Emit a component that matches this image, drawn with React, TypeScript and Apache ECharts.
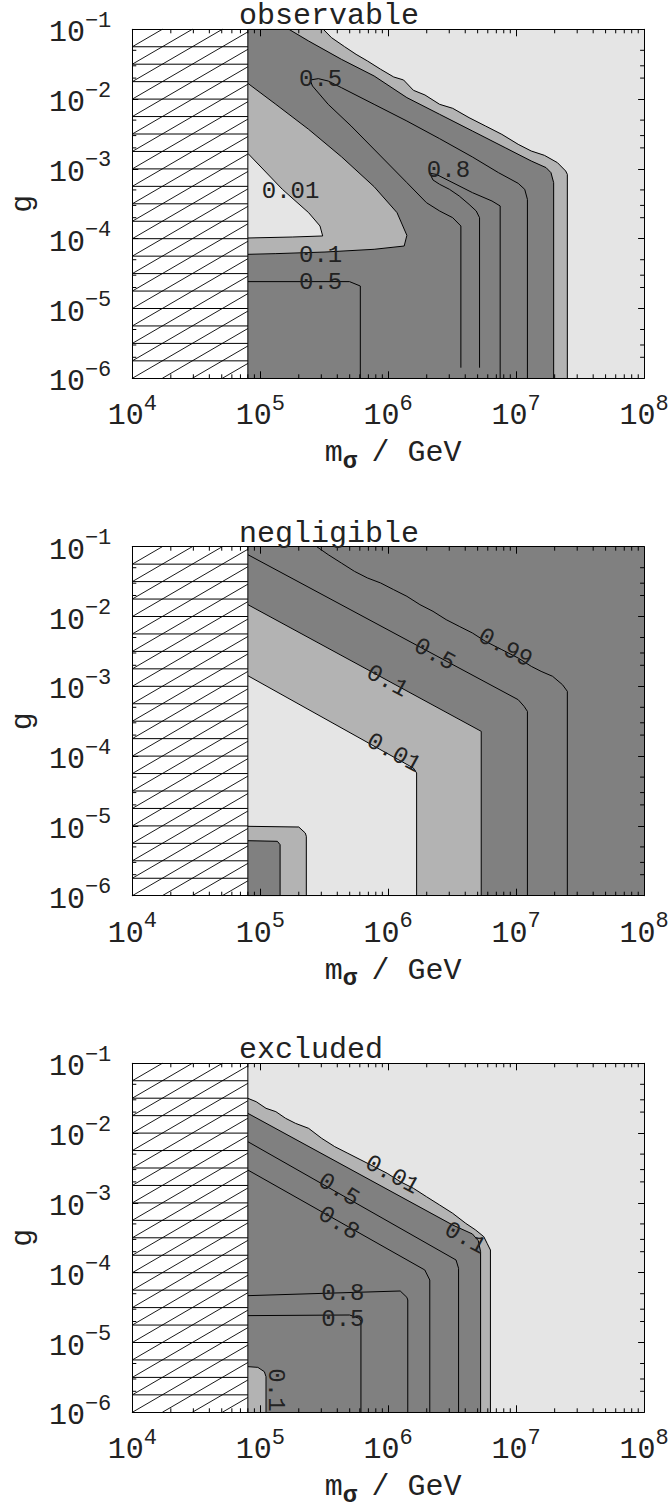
import React, { useEffect, useRef } from 'react';
import * as echarts from 'echarts';

type Pt = [number, number];

// ---- axes (log10 values) ----
const X_MIN = 4, X_MAX = 8, Y_MIN = -6, Y_MAX = -1;
const X_MINOR_FACTORS = [2, 3, 4, 5, 6, 7, 8, 9];
const Y_MINOR_FACTORS = [2, 3, 5];
const HATCH_EDGE = 4.903; // log10(8e4 GeV)
const HATCH_ROW_STEP = 0.25;
const TITLES = ['observable', 'negligible', 'excluded'];

// ---- panel 1: observable ----
const P1_EDGE_LIGHT: Pt[] = [[5.493,-1.0],[5.557,-1.120],[5.659,-1.249],[5.749,-1.359],[5.838,-1.454],[5.941,-1.573],[6.043,-1.683],[6.120,-1.726],[6.197,-1.874],[6.287,-1.941],[6.402,-2.075],[6.504,-2.132],[6.632,-2.266],[6.760,-2.385],[6.888,-2.505],[7.016,-2.648],[7.118,-2.744],[7.221,-2.806],[7.323,-2.911],[7.387,-3.030],[7.400,-3.078],[7.400,-6]];
const P1_EDGE_DARK: Pt[] = [[5.224,-1.0],[5.378,-1.168],[5.634,-1.430],[5.890,-1.669],[6.146,-1.979],[6.402,-2.218],[6.658,-2.457],[6.914,-2.696],[7.118,-2.887],[7.234,-2.982],[7.272,-3.054],[7.293,-3.197],[7.293,-6]];
const P1_WEDGE_MID: Pt[] = [[4.903,-1.774],[5.122,-2.075],[5.378,-2.433],[5.634,-2.825],[5.890,-3.255],[6.069,-3.627],[6.146,-3.952],[6.125,-4.105],[5.890,-4.152],[5.506,-4.191],[5.122,-4.214],[4.903,-4.224]];
const P1_WEDGE_LIGHT: Pt[] = [[4.903,-2.777],[5.173,-3.293],[5.378,-3.627],[5.467,-3.818],[5.488,-3.961],[5.250,-3.976],[4.903,-3.990]];
const P1_C05_LOW: Pt[] = [[4.903,-4.615],[5.698,-4.615],[5.782,-4.678],[5.782,-6]];
const P1_C05: Pt[] = [[6.568,-5.848],[6.568,-3.818],[6.504,-3.699],[6.402,-3.603],[6.299,-3.484],[6.146,-3.197],[5.941,-2.815],[5.710,-2.385],[5.531,-2.075],[5.408,-1.812],[5.390,-1.726],[5.454,-1.707],[5.531,-1.741],[5.634,-1.836],[5.890,-2.075],[6.146,-2.314],[6.402,-2.567],[6.658,-2.829],[6.862,-3.054],[7.016,-3.207],[7.067,-3.293],[7.088,-3.436],[7.088,-6]];
const P1_C08: Pt[] = [[6.714,-5.848],[6.714,-3.699],[6.688,-3.603],[6.632,-3.508],[6.555,-3.388],[6.479,-3.293],[6.402,-3.221],[6.350,-3.159],[6.325,-3.063],[6.376,-3.078],[6.530,-3.221],[6.658,-3.340],[6.811,-3.460],[6.875,-3.531],[6.875,-6]];
const P1_LABEL_TEXT = ['0.5', '0.8', '0.01', '0.1', '0.5'];
const P1_LABEL_POS: Pt[] = [[5.472,-1.717],[6.471,-3.030],[5.237,-3.317],[5.472,-4.238],[5.472,-4.630]];
const P1_LABEL_ROT = [0, 0, 0, 0, 0];

// ---- panel 2: negligible ----
const P2_EDGE_MID: Pt[] = [[4.903,-1.830],[6.727,-3.645],[6.727,-6]];
const P2_EDGE_LIGHT: Pt[] = [[4.903,-2.848],[6.197,-4.171],[6.222,-4.242],[6.222,-6]];
const P2_BOX_MID: Pt[] = [[4.903,-5.006],[5.301,-5.016],[5.352,-5.102],[5.360,-5.149],[5.360,-6]];
const P2_BOX_DARK: Pt[] = [[4.903,-5.212],[5.134,-5.221],[5.155,-5.269],[5.155,-6]];
const P2_C099: Pt[] = [[5.442,-1.0],[5.531,-1.114],[5.634,-1.234],[5.736,-1.353],[5.838,-1.448],[5.941,-1.520],[6.043,-1.616],[6.146,-1.711],[6.248,-1.830],[6.350,-1.926],[6.453,-2.045],[6.555,-2.141],[6.658,-2.236],[6.760,-2.356],[6.888,-2.475],[7.016,-2.595],[7.118,-2.714],[7.195,-2.786],[7.285,-2.857],[7.362,-2.977],[7.400,-3.072],[7.400,-6]];
const P2_C05: Pt[] = [[4.903,-1.114],[7.016,-3.192],[7.062,-3.287],[7.088,-3.359],[7.088,-6]];
const P2_LABEL_TEXT = ['0.99', '0.5', '0.1', '0.01'];
const P2_LABEL_POS: Pt[] = [[6.914,-2.451],[6.363,-2.547],[5.992,-2.929],[6.043,-3.956]];
const P2_LABEL_ROT = [-0.5, -0.5, -0.5, -0.5];

// ---- panel 3: excluded ----
const P3_EDGE_MID: Pt[] = [[4.903,-1.502],[4.968,-1.550],[5.045,-1.645],[5.122,-1.693],[5.198,-1.788],[5.275,-1.860],[5.378,-1.932],[5.480,-2.075],[5.582,-2.194],[5.685,-2.290],[5.787,-2.385],[5.890,-2.481],[5.992,-2.576],[6.094,-2.696],[6.197,-2.791],[6.299,-2.911],[6.402,-3.030],[6.504,-3.149],[6.606,-3.293],[6.683,-3.388],[6.747,-3.484],[6.773,-3.579],[6.799,-3.675],[6.799,-6]];
const P3_EDGE_DARK: Pt[] = [[4.903,-1.717],[6.504,-3.317],[6.658,-3.445],[6.704,-3.541],[6.722,-3.699],[6.722,-6]];
const P3_BOX_MID: Pt[] = [[4.903,-5.346],[4.981,-5.356],[5.032,-5.418],[5.045,-5.489],[5.045,-6]];
const P3_C05: Pt[] = [[4.903,-2.123],[6.530,-3.818],[6.550,-3.937],[6.550,-6]];
const P3_C08: Pt[] = [[4.903,-2.529],[6.286,-3.961],[6.325,-4.105],[6.325,-6]];
const P3_C08_LOW: Pt[] = [[4.903,-4.329],[6.094,-4.262],[6.146,-4.353],[6.153,-4.391],[6.153,-6]];
const P3_C05_LOW: Pt[] = [[4.903,-4.615],[5.698,-4.606],[5.774,-4.654],[5.787,-4.702],[5.787,-6]];
const P3_LABEL_TEXT = ['0.01', '0.5', '0.8', '0.1', '0.8', '0.5', '0.1'];
const P3_LABEL_POS: Pt[] = [[6.030,-2.600],[5.613,-2.815],[5.613,-3.293],[6.601,-3.508],[5.646,-4.298],[5.646,-4.668],[5.117,-5.680]];
const P3_LABEL_ROT = [-0.5, -0.55, -0.55, -0.5, 0, 0, -Math.PI / 2];

// ---- styling ----
const FONT = '"Liberation Mono", "Courier New", Courier, monospace';
const INK = '#222';
const LIGHT = '#e5e5e5', MID = '#b3b3b3', DARK = '#808080';
const GRID_LEFT = 123.3, GRID_WIDTH = 520.8, GRID_HEIGHT = 349;
const PANEL_TOPS = [29.3, 546.7, 1063.3];
const HATCH_SPACING_PX = 30;
const MINOR_LEN = 4;

const EDGE_CLOSE: Pt[] = [[HATCH_EDGE, -6], [HATCH_EDGE, -1]];
const LEFT_CLOSE: Pt[] = [[HATCH_EDGE, -6]];

interface Fill { pts: Pt[]; close: Pt[]; color: string }
interface Panel { background: string; fills: Fill[]; lines: Pt[][]; labelText: string[]; labelPos: Pt[]; labelRot: number[] }

const PANELS: Panel[] = [
  {
    background: LIGHT,
    fills: [
      { pts: P1_EDGE_LIGHT, close: EDGE_CLOSE, color: MID },
      { pts: P1_EDGE_DARK, close: EDGE_CLOSE, color: DARK },
      { pts: P1_WEDGE_MID, close: [], color: MID },
      { pts: P1_WEDGE_LIGHT, close: [], color: LIGHT },
    ],
    lines: [P1_C05_LOW, P1_C05, P1_C08],
    labelText: P1_LABEL_TEXT, labelPos: P1_LABEL_POS, labelRot: P1_LABEL_ROT,
  },
  {
    background: DARK,
    fills: [
      { pts: P2_EDGE_MID, close: LEFT_CLOSE, color: MID },
      { pts: P2_EDGE_LIGHT, close: LEFT_CLOSE, color: LIGHT },
      { pts: P2_BOX_MID, close: LEFT_CLOSE, color: MID },
      { pts: P2_BOX_DARK, close: LEFT_CLOSE, color: DARK },
    ],
    lines: [P2_C099, P2_C05],
    labelText: P2_LABEL_TEXT, labelPos: P2_LABEL_POS, labelRot: P2_LABEL_ROT,
  },
  {
    background: LIGHT,
    fills: [
      { pts: P3_EDGE_MID, close: LEFT_CLOSE, color: MID },
      { pts: P3_EDGE_DARK, close: LEFT_CLOSE, color: DARK },
      { pts: P3_BOX_MID, close: LEFT_CLOSE, color: MID },
    ],
    lines: [P3_C05, P3_C08, P3_C08_LOW, P3_C05_LOW],
    labelText: P3_LABEL_TEXT, labelPos: P3_LABEL_POS, labelRot: P3_LABEL_ROT,
  },
];

const TICK_RICH = {
  b: { fontSize: 30, fontFamily: FONT, color: INK, lineHeight: 30, padding: [8, 0, 0, 0] },
  s: { fontSize: 22, fontFamily: FONT, color: INK, lineHeight: 22, padding: [0, 0, 16, 0] },
};
const NAME_RICH = {
  m: { fontSize: 30, fontFamily: FONT, color: INK, lineHeight: 30, padding: [0, 0, 0, 10] },
  a: { fontSize: 30, fontFamily: FONT, color: INK, lineHeight: 30 },
  s: { fontSize: 24, fontFamily: FONT, fontWeight: 'bold', color: INK, lineHeight: 24, padding: [16, 0, 0, 0] },
};

function buildOption() {
  const grid: any[] = [], xAxis: any[] = [], yAxis: any[] = [], series: any[] = [], title: any[] = [];
  const axisLine = { show: true, onZero: false, lineStyle: { color: '#000', width: 1 } };

  PANELS.forEach((panel, gi) => {
    const top = PANEL_TOPS[gi];
    grid.push({ left: GRID_LEFT, top, width: GRID_WIDTH, height: GRID_HEIGHT, containLabel: false });
    title.push({
      text: TITLES[gi], left: 239, top: top - 26, padding: 0,
      textStyle: { fontFamily: FONT, fontSize: 30, fontWeight: 'normal', color: INK, lineHeight: 26 },
    });
    const xa = gi * 2, ya = gi * 2;
    xAxis.push({
      gridIndex: gi, type: 'value', min: X_MIN, max: X_MAX, interval: 1, position: 'bottom', z: 6,
      axisLine, axisTick: { show: true, inside: true, length: 7, lineStyle: { color: '#000' } },
      axisLabel: { show: true, margin: 19, formatter: (v: number) => `{b|10}{s|${v}}`, rich: TICK_RICH },
      splitLine: { show: false },
      name: '{m|m}{s|σ }{a|/ GeV}', nameLocation: 'middle', nameGap: 60,
      nameTextStyle: { rich: NAME_RICH, fontFamily: FONT },
    });
    xAxis.push({
      gridIndex: gi, type: 'value', min: X_MIN, max: X_MAX, interval: 1, position: 'top', z: 6,
      axisLine, axisTick: { show: true, inside: true, length: 7, lineStyle: { color: '#000' } },
      axisLabel: { show: false }, splitLine: { show: false },
    });
    yAxis.push({
      gridIndex: gi, type: 'value', min: Y_MIN, max: Y_MAX, interval: 1, position: 'left', z: 6,
      axisLine, axisTick: { show: true, inside: true, length: 6, lineStyle: { color: '#000' } },
      axisLabel: { show: true, margin: 21, formatter: (v: number) => `{b|10}{s|−${Math.abs(v)}}`, rich: TICK_RICH },
      splitLine: { show: false },
      name: 'g', nameLocation: 'middle', nameGap: 88,
      nameTextStyle: { fontFamily: FONT, fontSize: 30, color: INK },
    });
    yAxis.push({
      gridIndex: gi, type: 'value', min: Y_MIN, max: Y_MAX, interval: 1, position: 'right', z: 6,
      axisLine, axisTick: { show: true, inside: true, length: 6, lineStyle: { color: '#000' } },
      axisLabel: { show: false }, splitLine: { show: false },
    });

    const base = { type: 'custom', xAxisIndex: xa, yAxisIndex: ya, silent: true, data: [[6, -3]], animation: false };

    // background of the allowed region
    series.push({
      ...base, z: 1,
      renderItem: (_p: any, api: any) => {
        const [x0, y0] = api.coord([HATCH_EDGE, Y_MAX]);
        const [x1, y1] = api.coord([X_MAX, Y_MIN]);
        return { type: 'rect', shape: { x: x0, y: y0, width: x1 - x0, height: y1 - y0 }, style: { fill: panel.background } };
      },
    });
    // filled contour regions with their outlines
    panel.fills.forEach((f) => {
      series.push({
        ...base, z: 2,
        renderItem: (_p: any, api: any) => {
          const b = f.pts.map((p) => api.coord(p));
          const c = f.close.map((p) => api.coord(p));
          return {
            type: 'group',
            children: [
              { type: 'polygon', shape: { points: b.concat(c) }, style: { fill: f.color, stroke: f.color, lineWidth: 0.3 } },
              { type: 'polyline', shape: { points: b }, style: { stroke: '#000', lineWidth: 1, fill: null } },
            ],
          };
        },
      });
    });
    // contour lines
    series.push({
      ...base, z: 3,
      renderItem: (_p: any, api: any) => ({
        type: 'group',
        children: panel.lines.map((ln) => ({
          type: 'polyline', shape: { points: ln.map((p) => api.coord(p)) }, style: { stroke: '#000', lineWidth: 1, fill: null },
        })),
      }),
    });
    // hatched excluded region
    series.push({
      ...base, z: 3,
      renderItem: (_p: any, api: any) => {
        const [xl, yt] = api.coord([X_MIN, Y_MAX]);
        const [xr, yb] = api.coord([HATCH_EDGE, Y_MIN]);
        const children: any[] = [{ type: 'rect', shape: { x: xl, y: yt, width: xr - xl, height: yb - yt }, style: { fill: '#fff' } }];
        const rowPx = ((yb - yt) * HATCH_ROW_STEP) / (Y_MAX - Y_MIN);
        for (let v = Y_MIN + HATCH_ROW_STEP; v < Y_MAX - 1e-9; v += HATCH_ROW_STEP) {
          const py = api.coord([X_MIN, v])[1];
          children.push({ type: 'line', shape: { x1: xl, y1: py, x2: xr, y2: py }, style: { stroke: '#000', lineWidth: 1 } });
        }
        const slope = rowPx / HATCH_SPACING_PX;
        for (let n = -30; n < 10; n++) {
          const xs = xl + n * HATCH_SPACING_PX;
          const t0 = Math.max(xl - xs, 0);
          const t1 = Math.min(xr - xs, (yb - yt) / slope);
          if (t1 > t0) {
            children.push({ type: 'line', shape: { x1: xs + t0, y1: yb - slope * t0, x2: xs + t1, y2: yb - slope * t1 }, style: { stroke: '#000', lineWidth: 0.9 } });
          }
        }
        children.push({ type: 'line', shape: { x1: xr, y1: yt, x2: xr, y2: yb }, style: { stroke: '#000', lineWidth: 1 } });
        return { type: 'group', children };
      },
    });
    // minor (logarithmic) ticks
    series.push({
      ...base, z: 5,
      renderItem: (_p: any, api: any) => {
        const [xl, yt] = api.coord([X_MIN, Y_MAX]);
        const [xr, yb] = api.coord([X_MAX, Y_MIN]);
        const children: any[] = [];
        const st = { stroke: '#000', lineWidth: 1 };
        for (let d = X_MIN; d < X_MAX; d++) {
          for (const k of X_MINOR_FACTORS) {
            const px = api.coord([d + Math.log10(k), Y_MIN])[0];
            children.push({ type: 'line', shape: { x1: px, y1: yb, x2: px, y2: yb - MINOR_LEN }, style: st });
            children.push({ type: 'line', shape: { x1: px, y1: yt, x2: px, y2: yt + MINOR_LEN }, style: st });
          }
        }
        for (let d = Y_MIN; d < Y_MAX; d++) {
          for (const k of Y_MINOR_FACTORS) {
            const py = api.coord([X_MIN, d + Math.log10(k)])[1];
            children.push({ type: 'line', shape: { x1: xl, y1: py, x2: xl + MINOR_LEN, y2: py }, style: st });
            children.push({ type: 'line', shape: { x1: xr, y1: py, x2: xr - MINOR_LEN, y2: py }, style: st });
          }
        }
        return { type: 'group', children };
      },
    });
    // contour labels
    series.push({
      ...base, z: 4,
      renderItem: (_p: any, api: any) => ({
        type: 'group',
        children: panel.labelText.map((t, i) => {
          const [x, y] = api.coord(panel.labelPos[i]);
          return {
            type: 'text', x, y, rotation: panel.labelRot[i],
            style: { text: t, fontSize: 24, lineHeight: 18, fontFamily: FONT, fill: INK, align: 'center', verticalAlign: 'middle' },
          };
        }),
      }),
    });
  });

  return { animation: false, backgroundColor: '#fff', textStyle: { fontFamily: FONT }, title, grid, xAxis, yAxis, series };
}

export default function App() {
  const ref = useRef<HTMLDivElement>(null);
  useEffect(() => {
    if (!ref.current) return;
    const chart = echarts.init(ref.current, null, { renderer: 'svg' });
    chart.setOption(buildOption() as any);
    return () => chart.dispose();
  }, []);
  return <div ref={ref} style={{ position: 'absolute', left: 0, top: 0, width: 672, height: 1511, background: '#fff' }} />;
}
